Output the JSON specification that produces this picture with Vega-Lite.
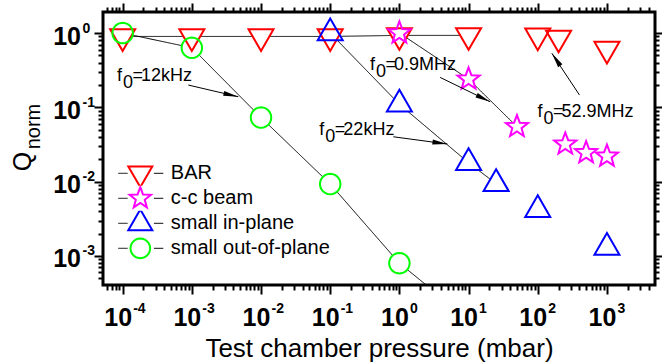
{
  "$schema": "https://vega.github.io/schema/vega-lite/v6.json",
  "width": 552,
  "height": 273,
  "autosize": "none",
  "padding": {"left": 103, "top": 12, "right": 7, "bottom": 77},
  "background": "white",
  "datasets": {
    "pts": [
      {"series": "BAR", "p": 0.0001, "q": 0.9, "line": true},
      {"series": "BAR", "p": 0.001, "q": 0.9, "line": true},
      {"series": "BAR", "p": 0.01, "q": 0.9, "line": true},
      {"series": "BAR", "p": 0.1, "q": 0.9, "line": true},
      {"series": "BAR", "p": 1, "q": 0.93, "line": true},
      {"series": "BAR", "p": 10, "q": 0.93, "line": true},
      {"series": "BAR", "p": 100, "q": 0.92, "line": false},
      {"series": "BAR", "p": 200, "q": 0.86, "line": false},
      {"series": "BAR", "p": 1000, "q": 0.61, "line": false},
      {"series": "c-c beam", "p": 1, "q": 1.0, "line": true},
      {"series": "c-c beam", "p": 10, "q": 0.24, "line": true},
      {"series": "c-c beam", "p": 50, "q": 0.055, "line": true},
      {"series": "c-c beam", "p": 250, "q": 0.032, "line": false},
      {"series": "c-c beam", "p": 500, "q": 0.0245, "line": false},
      {"series": "c-c beam", "p": 1000, "q": 0.022, "line": false},
      {"series": "small in-plane", "p": 0.1, "q": 1.0, "line": true},
      {"series": "small in-plane", "p": 1, "q": 0.11, "line": true},
      {"series": "small in-plane", "p": 10, "q": 0.018, "line": true},
      {"series": "small in-plane", "p": 25, "q": 0.0094, "line": true},
      {"series": "small in-plane", "p": 100, "q": 0.0042, "line": false},
      {"series": "small in-plane", "p": 1000, "q": 0.0013, "line": false},
      {"series": "small out-of-plane", "p": 0.0001, "q": 1.0, "line": true},
      {"series": "small out-of-plane", "p": 0.001, "q": 0.634, "line": true},
      {"series": "small out-of-plane", "p": 0.01, "q": 0.073, "line": true},
      {"series": "small out-of-plane", "p": 0.1, "q": 0.0093, "line": true},
      {"series": "small out-of-plane", "p": 1, "q": 0.0008, "line": true},
      {"series": "small out-of-plane", "p": 10, "q": 0.00014, "line": true}
    ],
    "ann": [
      {"label": "f0=12kHz", "freq": "12kHz", "tx": 0.0000827, "ty": 0.228, "ax": 0.00089, "ay": 0.1996, "hx": 0.0047, "hy": 0.139},
      {"label": "f0=0.9MHz", "freq": "0.9MHz", "tx": 0.377, "ty": 0.318, "ax": 3.88, "ay": 0.253, "hx": 20.5, "hy": 0.119},
      {"label": "f0=22kHz", "freq": "22kHz", "tx": 0.0697, "ty": 0.0424, "ax": 0.818, "ay": 0.0402, "hx": 4.94, "hy": 0.0321},
      {"label": "f0=52.9MHz", "freq": "52.9MHz", "tx": 99, "ty": 0.0733, "ax": 401, "ay": 0.1465, "hx": 160, "hy": 0.533}
    ]
  },
  "resolve": {"axis": {"x": "independent", "y": "independent"}},
  "layer": [
    {
      "data": {"name": "pts"},
      "transform": [{"filter": "datum.line"}],
      "mark": {"type": "line", "color": "black", "strokeWidth": 1, "clip": true},
      "encoding": {
        "x": {"field": "p", "type": "quantitative",
          "scale": {"type": "log", "domain": [0.000052, 4950], "nice": false},
          "axis": {"orient": "bottom", "values": [0.0001, 0.001, 0.01, 0.1, 1, 10, 100, 1000], "tickSize": 9, "tickWidth": 2, "tickColor": "black", "domain": false, "grid": false,
            "labelExpr": "'10'", "labelFont": "Liberation Sans", "labelFontSize": 25, "labelFontWeight": "bold", "labelColor": "black", "labelAlign": "center", "labelBaseline": "alphabetic", "labelOffset": -5, "labelPadding": 31, "labelFlush": false, "labelOverlap": false,
            "title": "Test chamber pressure (mbar)", "titleFont": "Liberation Sans", "titleFontSize": 26, "titleFontWeight": "normal", "titleColor": "black", "titleBaseline": "top", "titleY": 50}},
        "y": {"field": "q", "type": "quantitative",
          "scale": {"type": "log", "domain": [0.000407, 1.92], "nice": false},
          "axis": {"orient": "left", "values": [0.001, 0.01, 0.1, 1], "tickSize": 9, "tickWidth": 2, "tickColor": "black", "domain": false, "grid": false,
            "labelExpr": "'10'", "labelFont": "Liberation Sans", "labelFontSize": 25, "labelFontWeight": "bold", "labelColor": "black", "labelAlign": "right", "labelBaseline": "middle", "labelOffset": 3, "labelPadding": 13.5, "labelFlush": false, "labelOverlap": false,
            "title": "Q", "titleFont": "Liberation Sans", "titleFontSize": 25, "titleFontWeight": "normal", "titleColor": "black", "titleAngle": 270, "titleBaseline": "alphabetic", "titleAlign": "center", "titleX": -73, "titleY": 149}},
        "strokeDash": {"field": "series", "type": "nominal",
          "scale": {"domain": ["small out-of-plane", "small in-plane", "c-c beam", "BAR"], "range": [[1, 0], [1, 0], [1, 0], [1, 0]]},
          "legend": {"orient": "none", "legendX": 14.3, "legendY": 148.8, "title": null, "padding": 0, "rowPadding": 0, "clipHeight": 25, "symbolOffset": 10, "symbolType": "M-1.73,0L-1.01,0M1.01,0L1.73,0", "symbolSize": 676, "symbolStrokeColor": "black", "symbolStrokeWidth": 1, "labelOpacity": 0, "labelFont": "Liberation Sans", "labelFontSize": 20, "labelOffset": 17}},
        "order": {"field": "p", "type": "quantitative"}
      }
    },
    {
      "data": {"name": "pts"},
      "transform": [{"filter": "datum.series == 'BAR'"}],
      "mark": {"type": "point", "shape": "M-1,-0.577L1,-0.577L0,1.155Z", "filled": true, "color": "white", "opacity": 1, "size": 625, "strokeWidth": 0, "clip": true},
      "encoding": {
        "x": {"field": "p", "type": "quantitative", "scale": {"type": "log", "domain": [0.000052, 4950], "nice": false},
          "axis": {"orient": "top", "values": [0.0001, 0.001, 0.01, 0.1, 1, 10, 100, 1000], "tickSize": 9, "tickWidth": 2, "tickColor": "black", "domain": false, "grid": false, "labels": false, "title": null}},
        "y": {"field": "q", "type": "quantitative", "scale": {"type": "log", "domain": [0.000407, 1.92], "nice": false},
          "axis": {"orient": "right", "values": [0.001, 0.01, 0.1, 1], "tickSize": 7, "tickWidth": 2, "tickColor": "black", "domain": false, "grid": false, "labels": false, "title": null}}
      }
    },
    {
      "data": {"name": "pts"},
      "transform": [{"filter": "datum.series == 'c-c beam'"}],
      "mark": {"type": "point", "shape": "M0,-0.93L0.229,-0.316L0.884,-0.287L0.371,0.121L0.547,0.752L0,0.39L-0.547,0.752L-0.371,0.121L-0.884,-0.287L-0.229,-0.316Z", "filled": true, "color": "white", "opacity": 1, "size": 625, "strokeWidth": 0, "clip": true},
      "encoding": {
        "x": {"field": "p", "type": "quantitative", "scale": {"type": "log", "domain": [0.000052, 4950], "nice": false},
          "axis": {"orient": "top", "values": [0.00006, 0.00007, 0.00008, 0.00009, 0.0002, 0.0003, 0.0004, 0.0005, 0.0006, 0.0007, 0.0008, 0.0009, 0.002, 0.003, 0.004, 0.005, 0.006, 0.007, 0.008, 0.009, 0.02, 0.03, 0.04, 0.05, 0.06, 0.07, 0.08, 0.09, 0.2, 0.3, 0.4, 0.5, 0.6, 0.7, 0.8, 0.9, 2, 3, 4, 5, 6, 7, 8, 9, 20, 30, 40, 50, 60, 70, 80, 90, 200, 300, 400, 500, 600, 700, 800, 900, 2000, 3000, 4000], "tickSize": 5, "tickWidth": 2, "tickColor": "black", "domain": false, "grid": false, "labels": false, "title": null}},
        "y": {"field": "q", "type": "quantitative", "scale": {"type": "log", "domain": [0.000407, 1.92], "nice": false},
          "axis": {"orient": "right", "values": [0.0005, 0.0006, 0.0007, 0.0008, 0.0009, 0.002, 0.003, 0.004, 0.005, 0.006, 0.007, 0.008, 0.009, 0.02, 0.03, 0.04, 0.05, 0.06, 0.07, 0.08, 0.09, 0.2, 0.3, 0.4, 0.5, 0.6, 0.7, 0.8, 0.9], "tickSize": 4, "tickWidth": 2, "tickColor": "black", "domain": false, "grid": false, "labels": false, "title": null}}
      }
    },
    {
      "data": {"name": "pts"},
      "transform": [{"filter": "datum.series == 'small in-plane'"}],
      "mark": {"type": "point", "shape": "M0,-1.155L1,0.577L-1,0.577Z", "filled": true, "color": "white", "opacity": 1, "size": 625, "strokeWidth": 0, "clip": true},
      "encoding": {
        "x": {"field": "p", "type": "quantitative", "scale": {"type": "log", "domain": [0.000052, 4950], "nice": false}, "axis": null},
        "y": {"field": "q", "type": "quantitative", "scale": {"type": "log", "domain": [0.000407, 1.92], "nice": false}, "axis": null}
      }
    },
    {
      "data": {"name": "pts"},
      "transform": [{"filter": "datum.series == 'small out-of-plane'"}],
      "mark": {"type": "point", "shape": "circle", "filled": true, "color": "white", "opacity": 1, "size": 420, "strokeWidth": 0, "clip": true},
      "encoding": {
        "x": {"field": "p", "type": "quantitative", "scale": {"type": "log", "domain": [0.000052, 4950], "nice": false}, "axis": null},
        "y": {"field": "q", "type": "quantitative", "scale": {"type": "log", "domain": [0.000407, 1.92], "nice": false}, "axis": null}
      }
    },
    {
      "data": {"name": "pts"},
      "mark": {"type": "point", "filled": false, "opacity": 1, "size": 625, "strokeWidth": 2, "clip": true},
      "encoding": {
        "x": {"field": "p", "type": "quantitative", "scale": {"type": "log", "domain": [0.000052, 4950], "nice": false},
          "axis": {"orient": "bottom", "values": [0.00006, 0.00007, 0.00008, 0.00009, 0.0002, 0.0003, 0.0004, 0.0005, 0.0006, 0.0007, 0.0008, 0.0009, 0.002, 0.003, 0.004, 0.005, 0.006, 0.007, 0.008, 0.009, 0.02, 0.03, 0.04, 0.05, 0.06, 0.07, 0.08, 0.09, 0.2, 0.3, 0.4, 0.5, 0.6, 0.7, 0.8, 0.9, 2, 3, 4, 5, 6, 7, 8, 9, 20, 30, 40, 50, 60, 70, 80, 90, 200, 300, 400, 500, 600, 700, 800, 900, 2000, 3000, 4000], "tickSize": 5, "tickWidth": 2, "tickColor": "black", "domain": false, "grid": false, "labels": false, "title": null}},
        "y": {"field": "q", "type": "quantitative", "scale": {"type": "log", "domain": [0.000407, 1.92], "nice": false},
          "axis": {"orient": "left", "values": [0.0005, 0.0006, 0.0007, 0.0008, 0.0009, 0.002, 0.003, 0.004, 0.005, 0.006, 0.007, 0.008, 0.009, 0.02, 0.03, 0.04, 0.05, 0.06, 0.07, 0.08, 0.09, 0.2, 0.3, 0.4, 0.5, 0.6, 0.7, 0.8, 0.9], "tickSize": 5, "tickWidth": 2, "tickColor": "black", "domain": false, "grid": false, "labels": false, "title": null}},
        "shape": {"field": "series", "type": "nominal",
          "scale": {"domain": ["BAR", "c-c beam", "small in-plane", "small out-of-plane"], "range": ["M-1,-0.577L1,-0.577L0,1.155Z", "M0,-0.93L0.229,-0.316L0.884,-0.287L0.371,0.121L0.547,0.752L0,0.39L-0.547,0.752L-0.371,0.121L-0.884,-0.287L-0.229,-0.316Z", "M0,-1.155L1,0.577L-1,0.577Z", "M0.82,0L0.792,0.212L0.71,0.41L0.58,0.58L0.41,0.71L0.212,0.792L0,0.82L-0.212,0.792L-0.41,0.71L-0.58,0.58L-0.71,0.41L-0.792,0.212L-0.82,0L-0.792,-0.212L-0.71,-0.41L-0.58,-0.58L-0.41,-0.71L-0.212,-0.792L0,-0.82L0.212,-0.792L0.41,-0.71L0.58,-0.58L0.71,-0.41L0.792,-0.212Z"]},
          "legend": {"orient": "none", "legendX": 14.3, "legendY": 148.8, "title": null, "padding": 0, "rowPadding": 0, "clipHeight": 25, "symbolOffset": 10, "symbolSize": 576, "symbolStrokeWidth": 2, "labelFont": "Liberation Sans", "labelFontSize": 20, "labelColor": "black", "labelOffset": 17.5}},
        "color": {"field": "series", "type": "nominal",
          "scale": {"domain": ["BAR", "c-c beam", "small in-plane", "small out-of-plane"], "range": ["#ff0000", "#ff00ff", "#0000ff", "#00ff00"]},
          "legend": {"orient": "none", "legendX": 14.3, "legendY": 148.8, "title": null, "padding": 0, "rowPadding": 0, "clipHeight": 25, "symbolOffset": 10, "symbolSize": 576, "symbolStrokeWidth": 2, "labelFont": "Liberation Sans", "labelFontSize": 20, "labelColor": "black", "labelOffset": 17.5}}
      }
    },
    {
      "data": {"name": "ann"},
      "mark": {"type": "rule", "color": "black", "strokeWidth": 1},
      "encoding": {
        "x": {"field": "ax", "type": "quantitative", "scale": {"type": "log", "domain": [0.000052, 4950], "nice": false}, "axis": null},
        "y": {"field": "ay", "type": "quantitative", "scale": {"type": "log", "domain": [0.000407, 1.92], "nice": false},
          "axis": {"orient": "left", "values": [1], "ticks": false, "tickSize": 0, "labels": false, "domain": false, "grid": false,
            "title": "norm", "titleFont": "Liberation Sans", "titleFontSize": 20, "titleFontWeight": "normal", "titleColor": "black", "titleAngle": 270, "titleBaseline": "alphabetic", "titleAlign": "center", "titleX": -64, "titleY": 114}},
        "x2": {"field": "hx"},
        "y2": {"field": "hy"}
      }
    },
    {
      "data": {"name": "ann"},
      "transform": [{"filter": "datum.label == 'f0=12kHz'"}],
      "mark": {"type": "point", "shape": "M0,0L-5,-0.85L-5,0.85Z", "filled": true, "color": "black", "opacity": 1, "size": 36, "angle": 13, "strokeWidth": 0},
      "encoding": {
        "x": {"field": "hx", "type": "quantitative", "scale": {"type": "log", "domain": [0.000052, 4950], "nice": false},
          "axis": {"orient": "bottom", "values": [0.0001, 0.001, 0.01, 0.1, 1, 10, 100, 1000], "ticks": false, "tickSize": 0, "domain": false, "grid": false,
            "labelExpr": "datum.value < 0.0005 ? '-4' : datum.value < 0.005 ? '-3' : datum.value < 0.05 ? '-2' : datum.value < 0.5 ? '-1' : datum.value < 5 ? '0' : datum.value < 50 ? '1' : datum.value < 500 ? '2' : '3'",
            "labelFont": "Liberation Sans", "labelFontSize": 14, "labelFontWeight": "bold", "labelColor": "black", "labelAlign": "left", "labelBaseline": "alphabetic", "labelOffset": 10, "labelPadding": 27, "labelFlush": false, "labelOverlap": false, "title": null}},
        "y": {"field": "hy", "type": "quantitative", "scale": {"type": "log", "domain": [0.000407, 1.92], "nice": false},
          "axis": {"orient": "left", "values": [0.001, 0.01, 0.1, 1], "ticks": false, "tickSize": 0, "domain": false, "grid": false,
            "labelExpr": "datum.value < 0.005 ? '-3' : datum.value < 0.05 ? '-2' : datum.value < 0.5 ? '-1' : '0'",
            "labelFont": "Liberation Sans", "labelFontSize": 14, "labelFontWeight": "bold", "labelColor": "black", "labelAlign": "left", "labelBaseline": "alphabetic", "labelOffset": -1, "labelPadding": 21, "labelFlush": false, "labelOverlap": false, "title": null}}
      }
    },
    {
      "data": {"name": "ann"},
      "transform": [{"filter": "datum.label == 'f0=0.9MHz'"}],
      "mark": {"type": "point", "shape": "M0,0L-5,-0.85L-5,0.85Z", "filled": true, "color": "black", "opacity": 1, "size": 36, "angle": 26, "strokeWidth": 0},
      "encoding": {
        "x": {"field": "hx", "type": "quantitative", "scale": {"type": "log", "domain": [0.000052, 4950], "nice": false}, "axis": null},
        "y": {"field": "hy", "type": "quantitative", "scale": {"type": "log", "domain": [0.000407, 1.92], "nice": false}, "axis": null}
      }
    },
    {
      "data": {"name": "ann"},
      "transform": [{"filter": "datum.label == 'f0=22kHz'"}],
      "mark": {"type": "point", "shape": "M0,0L-5,-0.85L-5,0.85Z", "filled": true, "color": "black", "opacity": 1, "size": 36, "angle": 8, "strokeWidth": 0},
      "encoding": {
        "x": {"field": "hx", "type": "quantitative", "scale": {"type": "log", "domain": [0.000052, 4950], "nice": false}, "axis": null},
        "y": {"field": "hy", "type": "quantitative", "scale": {"type": "log", "domain": [0.000407, 1.92], "nice": false}, "axis": null}
      }
    },
    {
      "data": {"name": "ann"},
      "transform": [{"filter": "datum.label == 'f0=52.9MHz'"}],
      "mark": {"type": "point", "shape": "M0,0L-5,-0.85L-5,0.85Z", "filled": true, "color": "black", "opacity": 1, "size": 36, "angle": 236, "strokeWidth": 0},
      "encoding": {
        "x": {"field": "hx", "type": "quantitative", "scale": {"type": "log", "domain": [0.000052, 4950], "nice": false}, "axis": null},
        "y": {"field": "hy", "type": "quantitative", "scale": {"type": "log", "domain": [0.000407, 1.92], "nice": false}, "axis": null}
      }
    },
    {
      "data": {"name": "ann"},
      "mark": {"type": "text", "text": "f", "align": "left", "baseline": "alphabetic", "font": "Liberation Sans", "fontSize": 18, "color": "black"},
      "encoding": {
        "x": {"field": "tx", "type": "quantitative", "scale": {"type": "log", "domain": [0.000052, 4950], "nice": false}, "axis": null},
        "y": {"field": "ty", "type": "quantitative", "scale": {"type": "log", "domain": [0.000407, 1.92], "nice": false}, "axis": null}
      }
    },
    {
      "data": {"name": "ann"},
      "mark": {"type": "text", "text": "0", "align": "left", "baseline": "alphabetic", "font": "Liberation Sans", "fontSize": 18, "color": "black", "dx": 6, "dy": 7},
      "encoding": {
        "x": {"field": "tx", "type": "quantitative", "scale": {"type": "log", "domain": [0.000052, 4950], "nice": false}, "axis": null},
        "y": {"field": "ty", "type": "quantitative", "scale": {"type": "log", "domain": [0.000407, 1.92], "nice": false}, "axis": null}
      }
    },
    {
      "data": {"name": "ann"},
      "mark": {"type": "text", "text": "=", "align": "left", "baseline": "alphabetic", "font": "Liberation Sans", "fontSize": 18, "color": "black", "dx": 15.5},
      "encoding": {
        "x": {"field": "tx", "type": "quantitative", "scale": {"type": "log", "domain": [0.000052, 4950], "nice": false}, "axis": null},
        "y": {"field": "ty", "type": "quantitative", "scale": {"type": "log", "domain": [0.000407, 1.92], "nice": false}, "axis": null}
      }
    },
    {
      "data": {"name": "ann"},
      "mark": {"type": "text", "align": "left", "baseline": "alphabetic", "font": "Liberation Sans", "fontSize": 18, "color": "black", "dx": 24},
      "encoding": {
        "x": {"field": "tx", "type": "quantitative", "scale": {"type": "log", "domain": [0.000052, 4950], "nice": false}, "axis": null},
        "y": {"field": "ty", "type": "quantitative", "scale": {"type": "log", "domain": [0.000407, 1.92], "nice": false}, "axis": null},
        "text": {"field": "freq"}
      }
    }
  ],
  "config": {
    "view": {"stroke": "black", "strokeWidth": 3},
    "axis": {"domain": false, "grid": false},
    "font": "Liberation Sans"
  }
}
